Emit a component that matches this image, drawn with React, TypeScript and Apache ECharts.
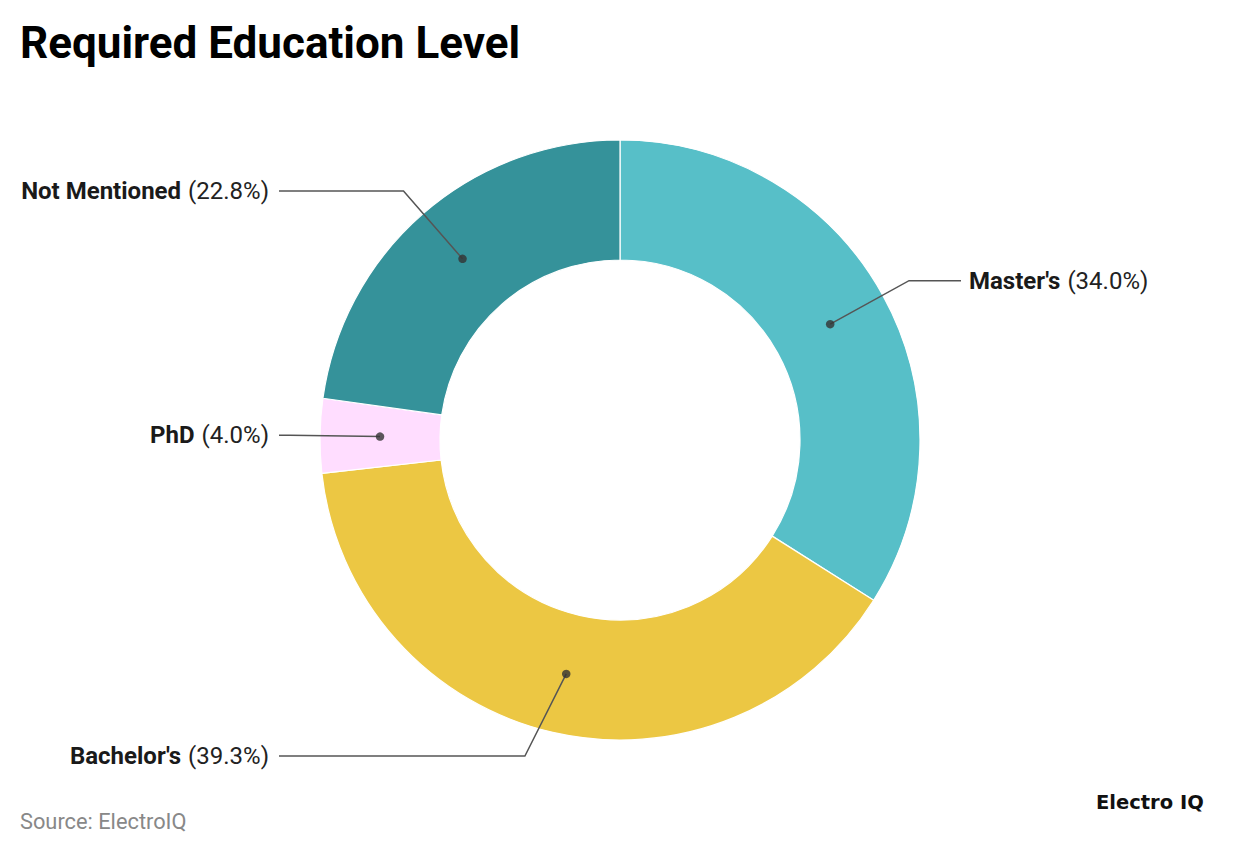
import React, { useEffect, useRef } from "react";
import * as echarts from "echarts";

const categories = ["Master's", "Bachelor's", "PhD", "Not Mentioned"];
const values = [34.0, 39.3, 4.0, 22.8];
const colors = ["#57BFC8", "#ECC743", "#FFDDFF", "#35929A"];

export default function App() {
  const ref = useRef<HTMLDivElement>(null);
  useEffect(() => {
    document.body.style.margin = "0";
    const chart = echarts.init(ref.current!, null, { renderer: "svg" });
    const cx = 620;
    const cy = 440;
    const elbowR = 330;
    const total = values.reduce((a, b) => a + b, 0);
    let acc = 0;
    const mids = values.map((v) => {
      const m = acc + v / 2;
      acc += v;
      return m;
    });
    const labelData = categories.map((name, i) => ({ name, value: values[i] }));
    chart.setOption({
      animation: false,
      title: {
        text: "Required Education Level",
        left: 15,
        top: 16,
        textStyle: { fontFamily: "Roboto", fontWeight: "bold", fontSize: 44, color: "#000" },
      },
      polar: { center: [cx, cy], radius: 300 },
      angleAxis: {
        type: "value",
        min: 0,
        max: total,
        startAngle: 90,
        clockwise: true,
        show: false,
      },
      radiusAxis: { type: "value", min: 0, max: 300, show: false },
      graphic: [
        {
          type: "text",
          left: 20,
          top: 810,
          style: { text: "Source: ElectroIQ", fontFamily: "Roboto", fontSize: 21.8, fill: "#888" },
        },
        {
          type: "text",
          left: 1096,
          top: 792,
          style: { text: "Electro IQ", fontFamily: "DejaVu Sans", fontWeight: "bold", fontSize: 19.5, fill: "#111" },
        },
      ],
      series: [
        {
          type: "pie",
          z: 1,
          center: [cx, cy],
          radius: [180, 300],
          startAngle: 90,
          clockwise: true,
          silent: true,
          label: { show: false },
          labelLine: { show: false },
          itemStyle: { borderColor: "#fff", borderWidth: 1.2 },
          data: categories.map((name, i) => ({
            name,
            value: values[i],
            itemStyle: { color: colors[i] },
          })),
        },
        {
          type: "pie",
          z: 3,
          center: [cx, cy],
          radius: [0, 240],
          startAngle: 90,
          clockwise: true,
          silent: true,
          itemStyle: { color: "transparent" },
          label: {
            show: true,
            position: "outside",
            fontFamily: "Roboto",
            formatter: (p: any) => `{b|${p.name}}{s| }{v|(${Number(p.value).toFixed(1)}%)}`,
            rich: {
              b: { fontFamily: "Roboto", fontWeight: "bold", fontSize: 24, color: "#1a1a1a" },
              s: { fontFamily: "Roboto", fontSize: 24, width: 7 },
              v: { fontFamily: "Roboto", fontSize: 24, color: "#222" },
            },
          },
          labelLine: {
            show: true,
            length: elbowR - 240,
            length2: 20,
            lineStyle: { color: "#555", width: 1.5 },
          },
          labelLayout: (p: any) => {
            const pts = p.labelLinePoints;
            if (!pts) return {};
            const isLeft = pts[1][0] < cx;
            let ex = pts[1][0];
            let ey = pts[1][1];
            const maxDy = 316;
            if (Math.abs(ey - cy) > maxDy) {
              const dy = ey > cy ? maxDy : -maxDy;
              ey = cy + dy;
              const dx = Math.sqrt(elbowR * elbowR - dy * dy);
              ex = cx + (isLeft ? -dx : dx);
            }
            const endX = cx + (isLeft ? -341 : 341);
            return {
              x: isLeft ? endX - 10 : endX + 8,
              y: ey,
              align: isLeft ? "right" : "left",
              verticalAlign: "middle",
              labelLinePoints: [pts[0], [ex, ey], [endX, ey]],
            };
          },
          data: labelData,
        },
        {
          type: "scatter",
          coordinateSystem: "polar",
          symbol: "circle",
          symbolSize: 8.5,
          silent: true,
          itemStyle: { color: "#333" },
          data: mids.map((m) => [240, m]),
          z: 5,
        },
      ],
    });
    return () => chart.dispose();
  }, []);
  return <div ref={ref} style={{ width: 1240, height: 856 }} />;
}
